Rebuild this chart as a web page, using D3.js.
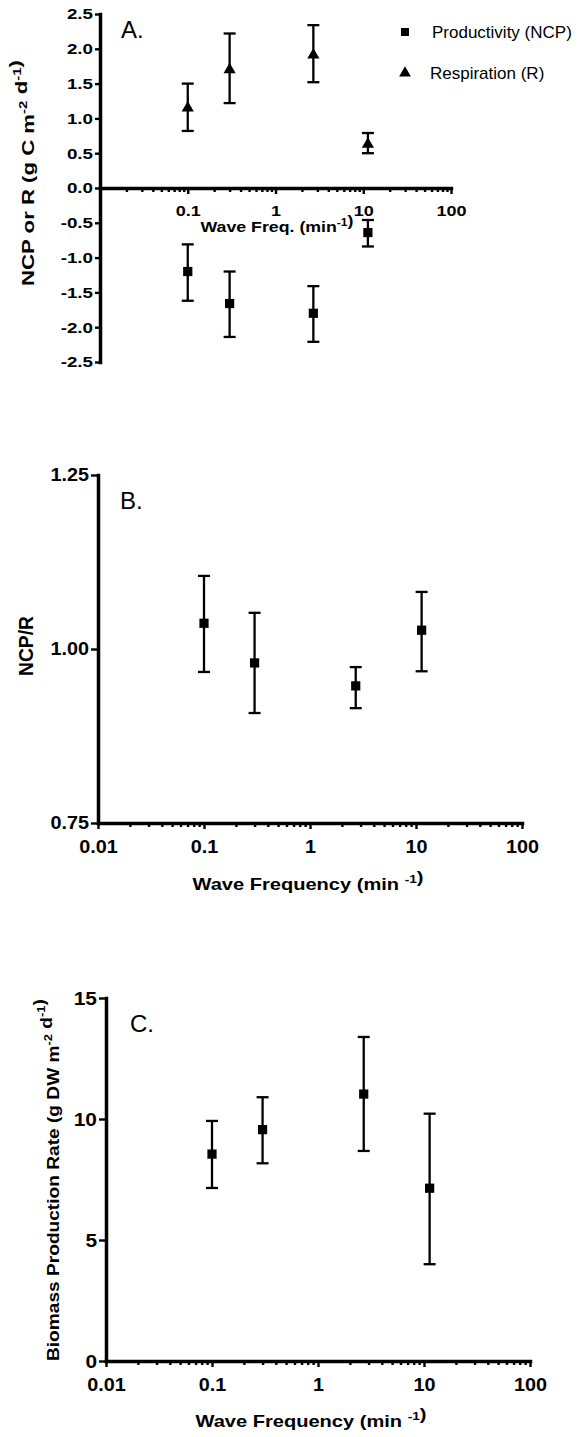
<!DOCTYPE html>
<html>
<head>
<meta charset="utf-8">
<script src="https://cdn.jsdelivr.net/npm/d3@7"></script>
<style>
	body { margin: 0; background: #fff; }
	svg text { font-family: "Liberation Sans", Arial, sans-serif; fill: #000; }
	.tick text { font-weight: bold; }
</style>
</head>
<body>
<svg id="chart" width="583" height="1437"></svg>
<script>
// wave frequency (min^-1) of the four treatments
const waveFreq = [0.1, 0.3, 2.7, 11.3];

// panel A: respiration and productivity (g C m-2 d-1)
const respMean = [1.15, 1.70, 1.91, 0.63];
const respLow = [0.82, 1.22, 1.52, 0.50];
const respHigh = [1.50, 2.22, 2.34, 0.79];
const ncpMean = [-1.20, -1.66, -1.80, -0.64];
const ncpLow = [-1.62, -2.14, -2.21, -0.84];
const ncpHigh = [-0.81, -1.20, -1.41, -0.46];

// panel B: NCP/R
const ratioMean = [1.037, 0.980, 0.947, 1.027];
const ratioLow = [0.967, 0.908, 0.915, 0.968];
const ratioHigh = [1.105, 1.052, 0.974, 1.082];

// panel C: biomass production (g DW m-2 d-1)
const bioMean = [8.55, 9.56, 11.03, 7.14];
const bioLow = [7.15, 8.17, 8.68, 4.00];
const bioHigh = [9.92, 10.90, 13.39, 10.22];

// ticks
const xMajor = [0.01, 0.1, 1, 10, 100];
const xMinor = d3.range(-2, 2).flatMap(e => d3.range(2, 10).map(m => m * Math.pow(10, e)));
const yTicksA = [-2.5, -2, -1.5, -1, -0.5, 0, 0.5, 1, 1.5, 2, 2.5];
const yTicksB = [0.75, 1.00, 1.25];
const yTicksC = [0, 5, 10, 15];

const legendNames = ["Productivity (NCP)", "Respiration (R)"];

const svg = d3.select("#chart");

// the bold text in the original is a bit wider than Arial, stretch it
function stretch(sel, k) {
	sel.each(function () {
		const w = this.getComputedTextLength();
		d3.select(this).attr("textLength", w * k).attr("lengthAdjust", "spacingAndGlyphs");
	});
}

function styleAxis(g) {
	g.select(".domain").attr("stroke-width", 3.5).attr("stroke-linecap", "square");
	g.selectAll(".tick line").attr("stroke-width", 2.4);
}

function rows(means, lows, highs) {
	return waveFreq.map((f, i) => ({ f, m: means[i], lo: lows[i], hi: highs[i] }));
}

function drawErrors(g, x, y, data, symbol, size) {
	const grp = g.append("g").attr("class", "series");
	grp.selectAll(".bar").data(data).join("line")
		.attr("x1", d => x(d.f)).attr("x2", d => x(d.f))
		.attr("y1", d => y(d.lo)).attr("y2", d => y(d.hi))
		.attr("stroke", "#000").attr("stroke-width", 2.3);
	["lo", "hi"].forEach(k => {
		grp.selectAll(".cap-" + k).data(data).join("line")
			.attr("x1", d => x(d.f) - 6).attr("x2", d => x(d.f) + 6)
			.attr("y1", d => y(d[k])).attr("y2", d => y(d[k]))
			.attr("stroke", "#000").attr("stroke-width", 2.3);
	});
	grp.selectAll("path").data(data).join("path")
		.attr("d", d3.symbol().type(symbol).size(size))
		.attr("transform", d => `translate(${x(d.f)},${y(d.m)})`)
		.attr("fill", "#000");
}

function xAxes(g, x, yPos, showFirst, pad, fontSize, k) {
	g.append("g")
		.attr("transform", `translate(0,${yPos})`)
		.call(d3.axisBottom(x).tickValues(xMinor).tickSize(4).tickFormat("").tickSizeOuter(0))
		.call(a => a.select(".domain").remove())
		.call(styleAxis);
	g.append("g")
		.attr("transform", `translate(0,${yPos})`)
		.call(d3.axisBottom(x).tickValues(xMajor).tickSize(6).tickSizeOuter(0).tickPadding(pad)
			.tickFormat(d => (d === 0.01 && !showFirst) ? "" : String(d)))
		.call(styleAxis)
		.call(a => a.selectAll(".tick text").attr("font-size", fontSize).call(stretch, k));
}

function yAxis(g, y, xPos, ticks, fmt, size, fontSize, k) {
	g.append("g")
		.attr("transform", `translate(${xPos},0)`)
		.call(d3.axisLeft(y).tickValues(ticks).tickSize(size).tickPadding(2).tickSizeOuter(0).tickFormat(fmt))
		.call(styleAxis)
		.call(a => a.selectAll(".tick text").attr("font-size", fontSize).call(stretch, k));
}

function addParts(t, parts, fontSize) {
	parts.forEach(p => {
		if (p.sup) {
			t.append("tspan").attr("dy", -fontSize * 0.42).attr("font-size", fontSize * 0.68).text(p.sup);
			t.append("tspan").attr("dy", fontSize * 0.42).text("");
		} else {
			t.append("tspan").text(p.t);
		}
	});
}

function yTitle(g, cx, cy, parts, fontSize, len) {
	const t = g.append("text")
		.attr("transform", `translate(${cx},${cy}) rotate(-90)`)
		.attr("text-anchor", "middle")
		.attr("font-weight", "bold")
		.attr("font-size", fontSize);
	addParts(t, parts, fontSize);
	if (len) t.attr("textLength", len).attr("lengthAdjust", "spacingAndGlyphs");
}

function xTitle(g, cx, cy, parts, fontSize, len) {
	const t = g.append("text")
		.attr("x", cx).attr("y", cy)
		.attr("text-anchor", "middle")
		.attr("font-weight", "bold")
		.attr("font-size", fontSize);
	addParts(t, parts, fontSize);
	if (len) t.attr("textLength", len).attr("lengthAdjust", "spacingAndGlyphs");
}

// ---------- panel A ----------
{
	const g = svg.append("g").attr("class", "panel-a");
	const x = d3.scaleLog().domain([0.01, 100]).range([100, 451]);
	const y = d3.scaleLinear().domain([-2.5, 2.5]).range([362, 14]);

	yAxis(g, y, 100, yTicksA, d => d.toFixed(1), 5, 15, 1.25);
	xAxes(g, x, y(0), false, 11, 15, 1.2);

	xTitle(g, 277, 232, [{ t: "Wave Freq. (min" }, { sup: "-1" }, { t: ")" }], 15, 153);
	yTitle(g, 34, 173, [{ t: "NCP or R (g C m" }, { sup: "-2" }, { t: " d" }, { sup: "-1" }, { t: ")" }], 16, 226);

	g.append("text").attr("x", 121).attr("y", 38).attr("font-size", 24).text("A.");

	drawErrors(g, x, y, rows(respMean, respLow, respHigh), d3.symbolTriangle, 64);
	drawErrors(g, x, y, rows(ncpMean, ncpLow, ncpHigh), d3.symbolSquare, 85);

	// legend
	const legend = g.append("g").attr("class", "legend");
	[d3.symbolSquare, d3.symbolTriangle].forEach((s, i) => {
		legend.append("path")
			.attr("d", d3.symbol().type(s).size(i ? 60 : 64))
			.attr("transform", `translate(405,${32 + i * 41})`);
		legend.append("text")
			.attr("x", i ? 430 : 432).attr("y", 38 + i * 41)
			.attr("font-size", 17)
			.text(legendNames[i]);
	});
}

// ---------- panel B ----------
{
	const g = svg.append("g").attr("class", "panel-b");
	const x = d3.scaleLog().domain([0.01, 100]).range([98, 522]);
	const y = d3.scaleLinear().domain([0.75, 1.25]).range([823, 475]);

	yAxis(g, y, 98, yTicksB, d => d.toFixed(2), 7, 18, 1.1);
	xAxes(g, x, y(0.75), true, 11, 18, 1.1);

	xTitle(g, 308, 890, [{ t: "Wave Frequency (min " }, { sup: "-1" }, { t: ")" }], 17, 231);
	yTitle(g, 33, 646, [{ t: "NCP/R" }], 20, 60);

	g.append("text").attr("x", 120).attr("y", 509).attr("font-size", 24).text("B.");

	drawErrors(g, x, y, rows(ratioMean, ratioLow, ratioHigh), d3.symbolSquare, 85);
}

// ---------- panel C ----------
{
	const g = svg.append("g").attr("class", "panel-c");
	const x = d3.scaleLog().domain([0.01, 100]).range([106, 530]);
	const y = d3.scaleLinear().domain([0, 15]).range([1361, 998]);

	yAxis(g, y, 106, yTicksC, d3.format("d"), 7, 19, 1.1);
	xAxes(g, x, y(0), true, 11, 18, 1.1);

	xTitle(g, 311, 1427, [{ t: "Wave Frequency (min " }, { sup: "-1" }, { t: ")" }], 17, 231);
	yTitle(g, 59, 1180, [{ t: "Biomass Production Rate (g DW m" }, { sup: "-2" }, { t: " d" }, { sup: "-1" }, { t: ")" }], 17, 362);

	g.append("text").attr("x", 130).attr("y", 1032).attr("font-size", 24).text("C.");

	drawErrors(g, x, y, rows(bioMean, bioLow, bioHigh), d3.symbolSquare, 85);
}
</script>
</body>
</html>
